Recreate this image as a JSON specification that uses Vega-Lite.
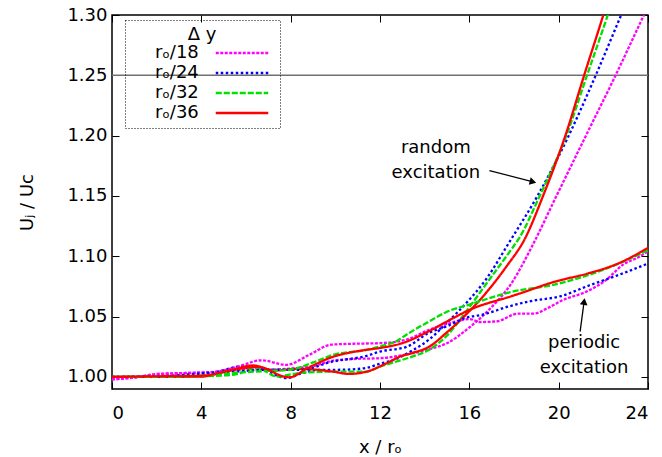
{
  "$schema": "https://vega.github.io/schema/vega-lite/v6.json",
  "width": 536,
  "height": 374,
  "autosize": "none",
  "padding": {"left": 112, "top": 15, "right": 14, "bottom": 68},
  "background": "white",
  "datasets": {
    "curves": [
      {"s":"rₒ/18","g":"random","x":0,"y":0.998},{"s":"rₒ/18","g":"random","x":1,"y":0.9995},{"s":"rₒ/18","g":"random","x":2,"y":1.002},{"s":"rₒ/18","g":"random","x":3,"y":1.003},{"s":"rₒ/18","g":"random","x":4.5,"y":1.004},{"s":"rₒ/18","g":"random","x":6,"y":1.006},{"s":"rₒ/18","g":"random","x":7,"y":1.006},{"s":"rₒ/18","g":"random","x":8,"y":1.007},{"s":"rₒ/18","g":"random","x":9,"y":1.009},{"s":"rₒ/18","g":"random","x":9.9,"y":1.0135},{"s":"rₒ/18","g":"random","x":11,"y":1.015},{"s":"rₒ/18","g":"random","x":12,"y":1.0155},{"s":"rₒ/18","g":"random","x":13,"y":1.018},{"s":"rₒ/18","g":"random","x":14.2,"y":1.023},{"s":"rₒ/18","g":"random","x":15,"y":1.028},{"s":"rₒ/18","g":"random","x":16,"y":1.041},{"s":"rₒ/18","g":"random","x":16.9,"y":1.056},{"s":"rₒ/18","g":"random","x":17.9,"y":1.078},{"s":"rₒ/18","g":"random","x":18.8,"y":1.108},{"s":"rₒ/18","g":"random","x":19.9,"y":1.15},{"s":"rₒ/18","g":"random","x":21.22,"y":1.2},{"s":"rₒ/18","g":"random","x":22.55,"y":1.25},{"s":"rₒ/18","g":"random","x":23.82,"y":1.3},{"s":"rₒ/18","g":"random","x":24,"y":1.307},
      {"s":"rₒ/24","g":"random","x":0,"y":1.0},{"s":"rₒ/24","g":"random","x":2,"y":1.0005},{"s":"rₒ/24","g":"random","x":3.5,"y":1.002},{"s":"rₒ/24","g":"random","x":4.5,"y":1.0035},{"s":"rₒ/24","g":"random","x":5.9,"y":1.009},{"s":"rₒ/24","g":"random","x":6.6,"y":1.0075},{"s":"rₒ/24","g":"random","x":7.5,"y":1.0003},{"s":"rₒ/24","g":"random","x":7.8,"y":0.999},{"s":"rₒ/24","g":"random","x":8.5,"y":1.003},{"s":"rₒ/24","g":"random","x":9.2,"y":1.0058},{"s":"rₒ/24","g":"random","x":10.4,"y":1.006},{"s":"rₒ/24","g":"random","x":11.4,"y":1.0075},{"s":"rₒ/24","g":"random","x":12,"y":1.011},{"s":"rₒ/24","g":"random","x":12.6,"y":1.014},{"s":"rₒ/24","g":"random","x":13.5,"y":1.0225},{"s":"rₒ/24","g":"random","x":14.2,"y":1.031},{"s":"rₒ/24","g":"random","x":15,"y":1.045},{"s":"rₒ/24","g":"random","x":15.85,"y":1.061},{"s":"rₒ/24","g":"random","x":16.75,"y":1.081},{"s":"rₒ/24","g":"random","x":17.8,"y":1.112},{"s":"rₒ/24","g":"random","x":19.05,"y":1.15},{"s":"rₒ/24","g":"random","x":20.45,"y":1.2},{"s":"rₒ/24","g":"random","x":21.66,"y":1.25},{"s":"rₒ/24","g":"random","x":22.8,"y":1.3},{"s":"rₒ/24","g":"random","x":23.1,"y":1.313},
      {"s":"rₒ/32","g":"random","x":0,"y":1.0},{"s":"rₒ/32","g":"random","x":2,"y":1.0},{"s":"rₒ/32","g":"random","x":4,"y":1.0005},{"s":"rₒ/32","g":"random","x":5.5,"y":1.002},{"s":"rₒ/32","g":"random","x":6.5,"y":1.0075},{"s":"rₒ/32","g":"random","x":7.4,"y":1.0003},{"s":"rₒ/32","g":"random","x":8.4,"y":1.0033},{"s":"rₒ/32","g":"random","x":9.9,"y":1.0044},{"s":"rₒ/32","g":"random","x":11.4,"y":1.0044},{"s":"rₒ/32","g":"random","x":12,"y":1.0086},{"s":"rₒ/32","g":"random","x":12.6,"y":1.012},{"s":"rₒ/32","g":"random","x":13.47,"y":1.017},{"s":"rₒ/32","g":"random","x":14.2,"y":1.0225},{"s":"rₒ/32","g":"random","x":14.96,"y":1.0336},{"s":"rₒ/32","g":"random","x":15.85,"y":1.054},{"s":"rₒ/32","g":"random","x":16.75,"y":1.077},{"s":"rₒ/32","g":"random","x":17.93,"y":1.107},{"s":"rₒ/32","g":"random","x":18.23,"y":1.115},{"s":"rₒ/32","g":"random","x":19.15,"y":1.15},{"s":"rₒ/32","g":"random","x":20.34,"y":1.2},{"s":"rₒ/32","g":"random","x":21.27,"y":1.25},{"s":"rₒ/32","g":"random","x":22.2,"y":1.3},{"s":"rₒ/32","g":"random","x":22.4,"y":1.311},
      {"s":"rₒ/36","g":"random","x":0,"y":1.0},{"s":"rₒ/36","g":"random","x":2,"y":1.0},{"s":"rₒ/36","g":"random","x":4,"y":1.0003},{"s":"rₒ/36","g":"random","x":5.4,"y":1.0058},{"s":"rₒ/36","g":"random","x":6.6,"y":1.0083},{"s":"rₒ/36","g":"random","x":7.2,"y":1.0053},{"s":"rₒ/36","g":"random","x":8.4,"y":1.0067},{"s":"rₒ/36","g":"random","x":9.9,"y":1.0044},{"s":"rₒ/36","g":"random","x":10.6,"y":1.0025},{"s":"rₒ/36","g":"random","x":11.4,"y":1.0044},{"s":"rₒ/36","g":"random","x":12.3,"y":1.0114},{"s":"rₒ/36","g":"random","x":12.9,"y":1.0169},{"s":"rₒ/36","g":"random","x":13.47,"y":1.02},{"s":"rₒ/36","g":"random","x":14.2,"y":1.025},{"s":"rₒ/36","g":"random","x":14.96,"y":1.0364},{"s":"rₒ/36","g":"random","x":15.85,"y":1.0517},{"s":"rₒ/36","g":"random","x":16.75,"y":1.0697},{"s":"rₒ/36","g":"random","x":17.64,"y":1.091},{"s":"rₒ/36","g":"random","x":18.5,"y":1.115},{"s":"rₒ/36","g":"random","x":19.3,"y":1.15},{"s":"rₒ/36","g":"random","x":20.3,"y":1.2},{"s":"rₒ/36","g":"random","x":21.14,"y":1.25},{"s":"rₒ/36","g":"random","x":22.0,"y":1.3},{"s":"rₒ/36","g":"random","x":22.2,"y":1.312},
      {"s":"rₒ/18","g":"periodic","x":0,"y":0.998},{"s":"rₒ/18","g":"periodic","x":1,"y":0.9995},{"s":"rₒ/18","g":"periodic","x":2,"y":1.0025},{"s":"rₒ/18","g":"periodic","x":3.4,"y":1.0033},{"s":"rₒ/18","g":"periodic","x":4.6,"y":1.0042},{"s":"rₒ/18","g":"periodic","x":5.6,"y":1.0083},{"s":"rₒ/18","g":"periodic","x":6.7,"y":1.0138},{"s":"rₒ/18","g":"periodic","x":7.8,"y":1.01},{"s":"rₒ/18","g":"periodic","x":8.8,"y":1.018},{"s":"rₒ/18","g":"periodic","x":9.8,"y":1.0267},{"s":"rₒ/18","g":"periodic","x":10.8,"y":1.0275},{"s":"rₒ/18","g":"periodic","x":12,"y":1.028},{"s":"rₒ/18","g":"periodic","x":13.2,"y":1.031},{"s":"rₒ/18","g":"periodic","x":14.2,"y":1.039},{"s":"rₒ/18","g":"periodic","x":15.2,"y":1.045},{"s":"rₒ/18","g":"periodic","x":16,"y":1.048},{"s":"rₒ/18","g":"periodic","x":16.5,"y":1.0455},{"s":"rₒ/18","g":"periodic","x":17.2,"y":1.046},{"s":"rₒ/18","g":"periodic","x":18.2,"y":1.0525},{"s":"rₒ/18","g":"periodic","x":18.9,"y":1.0525},{"s":"rₒ/18","g":"periodic","x":19.5,"y":1.057},{"s":"rₒ/18","g":"periodic","x":20.1,"y":1.063},{"s":"rₒ/18","g":"periodic","x":21.36,"y":1.0717},{"s":"rₒ/18","g":"periodic","x":22.1,"y":1.08},{"s":"rₒ/18","g":"periodic","x":22.9,"y":1.0933},{"s":"rₒ/18","g":"periodic","x":23.55,"y":1.099},{"s":"rₒ/18","g":"periodic","x":24,"y":1.104},
      {"s":"rₒ/24","g":"periodic","x":0,"y":1.0},{"s":"rₒ/24","g":"periodic","x":2,"y":1.0},{"s":"rₒ/24","g":"periodic","x":4,"y":1.003},{"s":"rₒ/24","g":"periodic","x":6,"y":1.005},{"s":"rₒ/24","g":"periodic","x":7,"y":1.006},{"s":"rₒ/24","g":"periodic","x":8.4,"y":1.0058},{"s":"rₒ/24","g":"periodic","x":9.9,"y":1.0128},{"s":"rₒ/24","g":"periodic","x":11.4,"y":1.0175},{"s":"rₒ/24","g":"periodic","x":12,"y":1.021},{"s":"rₒ/24","g":"periodic","x":13.2,"y":1.025},{"s":"rₒ/24","g":"periodic","x":14.2,"y":1.0367},{"s":"rₒ/24","g":"periodic","x":15,"y":1.042},{"s":"rₒ/24","g":"periodic","x":15.85,"y":1.049},{"s":"rₒ/24","g":"periodic","x":16.6,"y":1.0517},{"s":"rₒ/24","g":"periodic","x":17.8,"y":1.0586},{"s":"rₒ/24","g":"periodic","x":18.7,"y":1.0627},{"s":"rₒ/24","g":"periodic","x":20.1,"y":1.067},{"s":"rₒ/24","g":"periodic","x":21.36,"y":1.0758},{"s":"rₒ/24","g":"periodic","x":22.9,"y":1.086},{"s":"rₒ/24","g":"periodic","x":24,"y":1.094},
      {"s":"rₒ/32","g":"periodic","x":0,"y":1.0},{"s":"rₒ/32","g":"periodic","x":2,"y":1.0},{"s":"rₒ/32","g":"periodic","x":4,"y":1.001},{"s":"rₒ/32","g":"periodic","x":6,"y":1.004},{"s":"rₒ/32","g":"periodic","x":7,"y":1.005},{"s":"rₒ/32","g":"periodic","x":8,"y":1.006},{"s":"rₒ/32","g":"periodic","x":9,"y":1.012},{"s":"rₒ/32","g":"periodic","x":9.9,"y":1.0183},{"s":"rₒ/32","g":"periodic","x":11.4,"y":1.0225},{"s":"rₒ/32","g":"periodic","x":12,"y":1.0253},{"s":"rₒ/32","g":"periodic","x":12.7,"y":1.0294},{"s":"rₒ/32","g":"periodic","x":13.3,"y":1.0364},{"s":"rₒ/32","g":"periodic","x":14.2,"y":1.046},{"s":"rₒ/32","g":"periodic","x":15,"y":1.054},{"s":"rₒ/32","g":"periodic","x":16,"y":1.06},{"s":"rₒ/32","g":"periodic","x":17.9,"y":1.0705},{"s":"rₒ/32","g":"periodic","x":19.8,"y":1.0765},{"s":"rₒ/32","g":"periodic","x":21.36,"y":1.0846},{"s":"rₒ/32","g":"periodic","x":22.6,"y":1.0933},{"s":"rₒ/32","g":"periodic","x":24,"y":1.105},
      {"s":"rₒ/36","g":"periodic","x":0,"y":1.0},{"s":"rₒ/36","g":"periodic","x":2,"y":1.0005},{"s":"rₒ/36","g":"periodic","x":4,"y":1.001},{"s":"rₒ/36","g":"periodic","x":5.4,"y":1.006},{"s":"rₒ/36","g":"periodic","x":6.3,"y":1.0095},{"s":"rₒ/36","g":"periodic","x":6.9,"y":1.0067},{"s":"rₒ/36","g":"periodic","x":7.65,"y":1.0005},{"s":"rₒ/36","g":"periodic","x":7.95,"y":0.9997},{"s":"rₒ/36","g":"periodic","x":8.7,"y":1.0067},{"s":"rₒ/36","g":"periodic","x":9.9,"y":1.0167},{"s":"rₒ/36","g":"periodic","x":10.6,"y":1.02},{"s":"rₒ/36","g":"periodic","x":11.4,"y":1.0225},{"s":"rₒ/36","g":"periodic","x":12,"y":1.024},{"s":"rₒ/36","g":"periodic","x":13,"y":1.028},{"s":"rₒ/36","g":"periodic","x":14.2,"y":1.038},{"s":"rₒ/36","g":"periodic","x":15,"y":1.046},{"s":"rₒ/36","g":"periodic","x":16,"y":1.0555},{"s":"rₒ/36","g":"periodic","x":17.9,"y":1.067},{"s":"rₒ/36","g":"periodic","x":18.23,"y":1.069},{"s":"rₒ/36","g":"periodic","x":19.8,"y":1.0788},{"s":"rₒ/36","g":"periodic","x":21.36,"y":1.086},{"s":"rₒ/36","g":"periodic","x":22.6,"y":1.0935},{"s":"rₒ/36","g":"periodic","x":24,"y":1.107}
    ],
    "labels": [
      {"t":"random\nexcitation","x":14.5,"y":1.19},
      {"t":"periodic\nexcitation","x":21.14,"y":1.0284}
    ],
    "arrows": [
      {"a":"random","x":16.9,"y":1.171,"x2":18.9,"y2":1.1615},
      {"a":"periodic","x":20.96,"y":1.0375,"x2":21.15,"y2":1.064}
    ],
    "heads": [
      {"a":"random","x":18.85,"y":1.1617,"ang":14,"shape":"triangle-right"},
      {"a":"periodic","x":21.14,"y":1.0625,"ang":8,"shape":"triangle-up"}
    ],
    "frame": [{"x":0,"x2":24,"y":1.25}]
  },
  "layer": [
    {
      "data": {"name": "frame"},
      "mark": {"type": "rule", "color": "#707070", "strokeWidth": 1.5},
      "encoding": {
        "x": {"field": "x", "type": "quantitative", "scale": {"domain": [0, 24], "nice": false, "zero": false},
              "axis": {"orient": "top", "labels": false, "title": null, "grid": false, "domain": false, "values": [0,4,8,12,16,20,24], "tickSize": -7}},
        "x2": {"field": "x2"},
        "y": {"field": "y", "type": "quantitative", "scale": {"domain": [0.99, 1.3], "nice": false, "zero": false},
              "axis": {"orient": "right", "labels": false, "title": null, "grid": false, "domain": false, "values": [1.0,1.05,1.1,1.15,1.2,1.25,1.3], "tickSize": -7}}
      }
    },
    {
      "data": {"name": "curves"},
      "mark": {"type": "line", "interpolate": "monotone", "clip": true},
      "encoding": {
        "x": {"field": "x", "type": "quantitative", "scale": {"domain": [0, 24], "nice": false, "zero": false},
              "axis": {"orient": "bottom", "values": [0,4,8,12,16,20,24], "title": "x / rₒ", "labelPadding": 22, "titlePadding": 16}},
        "y": {"field": "y", "type": "quantitative", "scale": {"domain": [0.99, 1.3], "nice": false, "zero": false},
              "axis": {"orient": "left", "values": [1.0,1.05,1.1,1.15,1.2,1.25,1.3], "format": ".2f", "title": "Uⱼ / Uᴄ", "labelPadding": 12, "titlePadding": 30}},
        "color": {"field": "s", "type": "nominal",
                  "scale": {"domain": ["rₒ/18","rₒ/24","rₒ/32","rₒ/36"], "range": ["#ff00ff","#0000ff","#00e000","#ff0000"]},
                  "legend": {"title": "Δ y", "orient": "none", "legendX": 13, "legendY": 5}},
        "strokeDash": {"field": "s", "type": "nominal",
                  "scale": {"domain": ["rₒ/18","rₒ/24","rₒ/32","rₒ/36"], "range": [[3,1.5],[2.5,2.5],[6,2],[1,0]]},
                  "legend": {"title": "Δ y", "orient": "none", "legendX": 13, "legendY": 5}},
        "detail": {"field": "g"},
        "strokeWidth": {"value": 2.3}
      }
    },
    {
      "data": {"name": "labels"},
      "mark": {"type": "text", "font": "DejaVu Sans", "fontSize": 18, "lineHeight": 25, "lineBreak": "\n", "align": "center", "baseline": "middle", "color": "black"},
      "encoding": {
        "x": {"field": "x", "type": "quantitative", "axis": null},
        "y": {"field": "y", "type": "quantitative", "axis": null},
        "text": {"field": "t"}
      }
    },
    {
      "data": {"name": "arrows"},
      "mark": {"type": "rule", "color": "black", "strokeWidth": 1.3},
      "encoding": {
        "x": {"field": "x", "type": "quantitative", "axis": null},
        "y": {"field": "y", "type": "quantitative", "axis": null},
        "x2": {"field": "x2"},
        "y2": {"field": "y2"}
      }
    },
    {
      "data": {"name": "heads"},
      "mark": {"type": "point", "filled": true, "color": "black", "size": 60, "opacity": 1},
      "encoding": {
        "x": {"field": "x", "type": "quantitative", "axis": null},
        "y": {"field": "y", "type": "quantitative", "axis": null},
        "shape": {"field": "shape", "type": "nominal", "scale": null, "legend": null},
        "angle": {"field": "ang", "type": "quantitative", "scale": null}
      }
    }
  ],
  "resolve": {"axis": {"x": "independent", "y": "independent"}},
  "config": {
    "font": "DejaVu Sans",
    "view": {"stroke": "black", "strokeWidth": 1.5},
    "axis": {
      "domain": false,
      "grid": true,
      "gridColor": "black",
      "gridDash": [1, 2],
      "gridOpacity": 1,
      "gridWidth": 0.8,
      "ticks": true,
      "tickColor": "black",
      "tickSize": -7,
      "tickWidth": 1,
      "labelFont": "DejaVu Sans",
      "labelFontSize": 18,
      "labelColor": "black",
      "titleFont": "DejaVu Sans",
      "titleFontSize": 18,
      "titleFontWeight": "normal",
      "titleColor": "black"
    },
    "legend": {
      "symbolType": "M-5.25,0H5.25",
      "symbolSize": 100,
      "symbolStrokeWidth": 2.5,
      "symbolOffset": 102,
      "labelFont": "DejaVu Sans",
      "labelFontSize": 18,
      "labelColor": "black",
      "labelAlign": "left",
      "labelOffset": -96,
      "titleFont": "DejaVu Sans",
      "titleFontSize": 18,
      "titleFontWeight": "normal",
      "titleColor": "black",
      "titleAnchor": "middle",
      "titlePadding": 0,
      "strokeColor": "black",
      "strokeDash": [1, 2],
      "padding": 6,
      "rowPadding": 2
    }
  }
}
